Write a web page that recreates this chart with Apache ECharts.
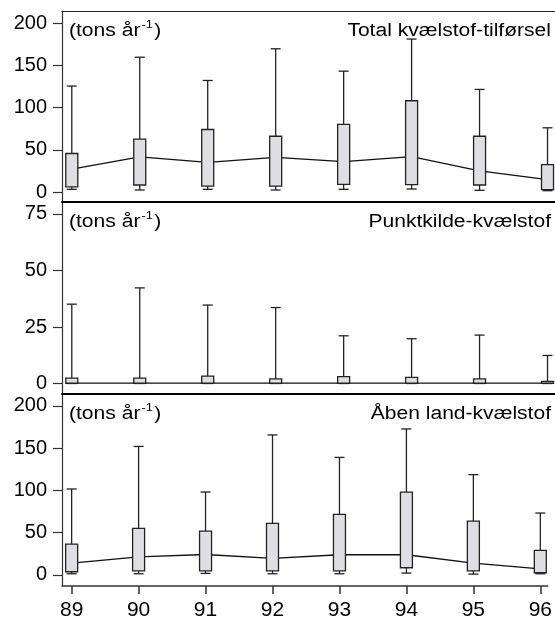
<!DOCTYPE html>
<html>
<head>
<meta charset="utf-8">
<script src="https://cdn.jsdelivr.net/npm/echarts@6/dist/echarts.min.js"></script>
<style>html,body{margin:0;padding:0;background:#fff}#c{width:555px;height:621px}</style>
</head>
<body>
<div id="c"></div>
<script>
const years = [89, 90, 91, 92, 93, 94, 95, 96];
const yearLabels = ['89', '90', '91', '92', '93', '94', '95', '96'];

// Panel 1: Total kvælstof-tilførsel
const totalLow  = [3.2, 2.4, 3.2, 2.4, 3.2, 3.6, 2.0, 1.6];
const totalQ1   = [6, 8.3, 7, 7, 9, 8.7, 8.3, 2.8];
const totalMed  = [27, 41.7, 35, 40.9, 36, 42, 25, 14.7];
const totalQ3   = [45.6, 62.7, 74, 66, 80, 108, 66, 32.5];
const totalHigh = [125.4, 159.5, 132, 169.5, 143, 181, 121.4, 76];
const totalTicks = [0, 50, 100, 150, 200];

// Panel 2: Punktkilde-kvælstof
const punktLow  = [0, 0, 0, 0, 0, 0, 0, 0];
const punktQ1   = [0.1, 0.1, 0.1, 0.1, 0.1, 0.1, 0.1, 0.1];
const punktMed  = [0.2, 0.2, 0.2, 0.2, 0.2, 0.2, 0.2, 0.2];
const punktQ3   = [2.4, 2.4, 3.3, 2.0, 3.0, 2.7, 2.0, 0.9];
const punktHigh = [35.1, 42.3, 34.7, 33.6, 21.1, 19.8, 21.4, 12.4];
const punktTicks = [0, 25, 50, 75];

// Panel 3: Åben land-kvælstof
const aabenLow  = [1.2, 1.2, 1.6, 1.2, 1.2, 2.0, 0.8, 1.2];
const aabenQ1   = [3.6, 4.7, 4.7, 4.7, 4.7, 8.3, 4.7, 2.4];
const aabenMed  = [13.8, 21.3, 24, 19.3, 23.7, 23.7, 13.8, 7.1];
const aabenQ3   = [36.3, 55, 51.8, 60.8, 71.5, 98, 63.6, 28.8];
const aabenHigh = [101.6, 152, 98, 165.6, 139, 172.7, 118.6, 73.1];
const aabenTicks = [0, 50, 100, 150, 200];

const panelTitles = ['Total kvælstof-tilførsel', 'Punktkilde-kvælstof', 'Åben land-kvælstof'];
const unitText = '{a|(tons år}{s|-1}{a|)}';

const FONT = 'Liberation Sans, Arial, Helvetica, sans-serif';
const FS = 20;
const AFS = 18;
const ASCALE = 1.17;

const panels = [
  {low: totalLow, q1: totalQ1, med: totalMed, q3: totalQ3, high: totalHigh, ticks: totalTicks, min: -11.8, max: 214.2, top: 11, height: 191},
  {low: punktLow, q1: punktQ1, med: punktMed, q3: punktQ3, high: punktHigh, ticks: punktTicks, min: -4.65, max: 80.3, top: 202, height: 192},
  {low: aabenLow, q1: aabenQ1, med: aabenMed, q3: aabenQ3, high: aabenHigh, ticks: aabenTicks, min: -13.3, max: 214.1, top: 394, height: 193}
];

const XMIN = 88.856, XMAX = 96.11;

const grid = [], xAxis = [], yAxis = [], series = [], graphic = [];

panels.forEach((p, i) => {
  grid.push({left: 62, right: 0, top: p.top, height: p.height});
  const isBottom = i === panels.length - 1;
  xAxis.push({
    type: 'value', gridIndex: i, min: XMIN, max: XMAX, position: 'bottom',
    splitLine: {show: false},
    axisLine: {show: true, onZero: false, lineStyle: {color: isBottom ? '#333' : '#000', width: isBottom ? 1.5 : 2}},
    axisTick: {show: isBottom, length: 8, inside: false, customValues: years, lineStyle: {color: '#333', width: 1.5}},
    axisLabel: {show: isBottom, customValues: years, formatter: v => yearLabels[years.indexOf(Math.round(v))] || '',
      fontSize: FS + 1, fontFamily: FONT, color: '#000', margin: 14}
  });
  yAxis.push({
    type: 'value', gridIndex: i, min: p.min, max: p.max, position: 'left',
    splitLine: {show: false},
    axisLine: {show: true, onZero: false, lineStyle: {color: '#333', width: 1.2}},
    axisTick: {show: true, length: 9, customValues: p.ticks, lineStyle: {color: '#333', width: 1.2}},
    axisLabel: {show: true, customValues: p.ticks, fontSize: FS, fontFamily: FONT, color: '#000', margin: 15}
  });
  const med = years.map((y, k) => [y, p.med[k]]);
  series.push({
    type: 'line', xAxisIndex: i, yAxisIndex: i, data: med, symbol: 'none', z: 2,
    lineStyle: {color: '#111', width: 1.3}, silent: true, animation: false
  });
  const boxData = years.map((y, k) => [y, p.low[k], p.q1[k], p.med[k], p.q3[k], p.high[k]]);
  series.push({
    type: 'custom', xAxisIndex: i, yAxisIndex: i, data: boxData, z: 3, animation: false, silent: true,
    renderItem: function (params, api) {
      const x = api.value(0);
      const pLo = api.coord([x, api.value(1)]);
      const pQ1 = api.coord([x, api.value(2)]);
      const pQ3 = api.coord([x, api.value(4)]);
      const pHi = api.coord([x, api.value(5)]);
      const bw = 12, cw = 10;
      const cx = pLo[0];
      const st = {stroke: '#222', lineWidth: 1.3};
      return {
        type: 'group',
        children: [
          {type: 'line', shape: {x1: cx, y1: pHi[1], x2: cx, y2: pQ3[1]}, style: st},
          {type: 'line', shape: {x1: cx, y1: pQ1[1], x2: cx, y2: pLo[1]}, style: st},
          {type: 'line', shape: {x1: cx - cw / 2, y1: pHi[1], x2: cx + cw / 2, y2: pHi[1]}, style: st},
          {type: 'line', shape: {x1: cx - cw / 2, y1: pLo[1], x2: cx + cw / 2, y2: pLo[1]}, style: st},
          {type: 'rect', shape: {x: cx - bw / 2, y: pQ3[1], width: bw, height: Math.max(pQ1[1] - pQ3[1], 1)},
            style: {fill: '#dfdee3', stroke: '#222', lineWidth: 1.3}}
        ]
      };
    }
  });
  graphic.push({
    type: 'text', x: 69, y: p.top + 8, scaleX: ASCALE, z: 10,
    style: {text: unitText, fill: '#000', font: AFS + 'px ' + FONT, textAlign: 'left',
      rich: {a: {fontSize: AFS, fontFamily: FONT, fill: '#000', lineHeight: 24},
             s: {fontSize: 11, fontFamily: FONT, fill: '#000', verticalAlign: 'top', lineHeight: 24, padding: [0, 1, 7, 1]}}}
  });
  graphic.push({
    type: 'text', x: 551, y: p.top + 8, scaleX: ASCALE, z: 10,
    style: {text: panelTitles[i], fill: '#000', font: AFS + 'px ' + FONT, textAlign: 'right', lineHeight: 24}
  });
});

// top frame line for the first panel
xAxis.push({
  type: 'value', gridIndex: 0, min: XMIN, max: XMAX, position: 'top',
  splitLine: {show: false}, axisTick: {show: false}, axisLabel: {show: false},
  axisLine: {show: true, onZero: false, lineStyle: {color: '#222', width: 1.2}}
});

const chart = echarts.init(document.getElementById('c'), null, {renderer: 'canvas'});
chart.setOption({animation: false, grid, xAxis, yAxis, series, graphic});
</script>
</body>
</html>
